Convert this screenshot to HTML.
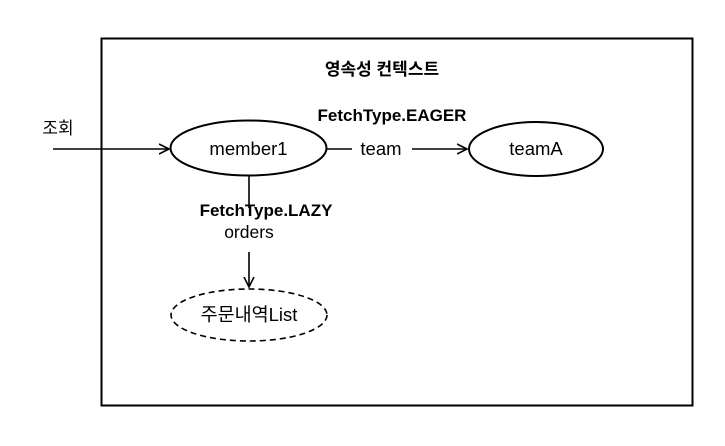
<!DOCTYPE html>
<html><head><style>body{margin:0;background:#fff}</style></head><body>
<svg width="725" height="441" xmlns="http://www.w3.org/2000/svg" font-family="Liberation Sans, Noto Sans CJK KR, sans-serif">
<defs><marker id="a" markerWidth="12" markerHeight="12" refX="10" refY="6" orient="auto" markerUnits="userSpaceOnUse"><path d="M0,1 L10,6 L0,11" fill="none" stroke="#000" stroke-width="1.6"/></marker></defs>
<rect x="101.5" y="38.5" width="591" height="367" fill="none" stroke="#000" stroke-width="2"/>
<text x="382" y="75" font-size="17" font-weight="bold" text-anchor="middle">영속성 컨텍스트</text>
<text x="58" y="134" font-size="17" text-anchor="middle">조회</text>
<line x1="53" y1="149" x2="169" y2="149" stroke="#000" stroke-width="1.6" marker-end="url(#a)"/>
<ellipse cx="248.5" cy="148" rx="78" ry="27.5" fill="none" stroke="#000" stroke-width="2"/>
<text x="248.5" y="155" font-size="18.5" text-anchor="middle">member1</text>
<text x="392" y="121" font-size="17" font-weight="bold" text-anchor="middle">FetchType.EAGER</text>
<line x1="327" y1="149" x2="352" y2="149" stroke="#000" stroke-width="1.6"/>
<text x="381" y="155" font-size="18.5" text-anchor="middle">team</text>
<line x1="412" y1="149" x2="467" y2="149" stroke="#000" stroke-width="1.6" marker-end="url(#a)"/>
<ellipse cx="536" cy="149" rx="67" ry="27" fill="none" stroke="#000" stroke-width="2"/>
<text x="536" y="155" font-size="18.5" text-anchor="middle">teamA</text>
<line x1="249" y1="176" x2="249" y2="208" stroke="#000" stroke-width="1.6"/>
<text x="266" y="216" font-size="17" font-weight="bold" text-anchor="middle">FetchType.LAZY</text>
<text x="249" y="238" font-size="17.5" text-anchor="middle">orders</text>
<line x1="249" y1="252" x2="249" y2="287" stroke="#000" stroke-width="1.6" marker-end="url(#a)"/>
<ellipse cx="249" cy="315" rx="78" ry="26" fill="none" stroke="#000" stroke-width="1.6" stroke-dasharray="6,4"/>
<text x="249" y="321" font-size="18.5" text-anchor="middle">주문내역List</text>
</svg>
</body></html>
